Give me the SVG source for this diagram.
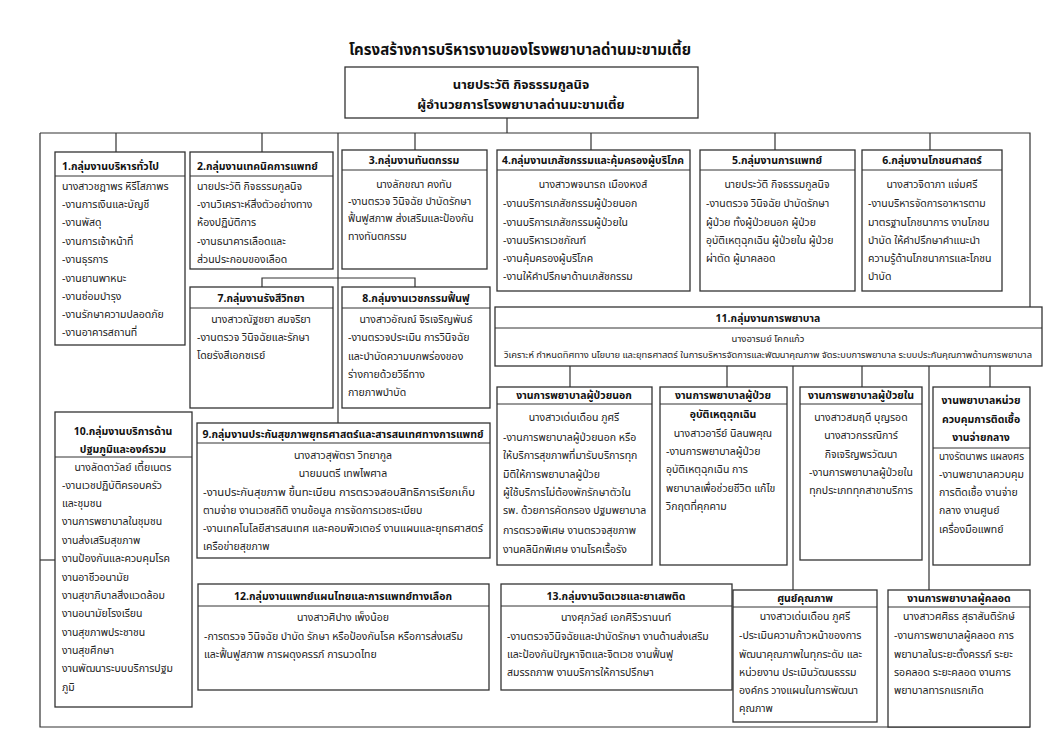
<svg xmlns="http://www.w3.org/2000/svg" width="1053" height="740" viewBox="0 0 1053 740">
<style>
text{font-family:Tahoma,"Noto Sans Thai","Noto Sans","DejaVu Sans",sans-serif;font-size:10.5px;fill:#222}
.h{font-weight:bold;fill:#111}
.c{text-anchor:middle}
.ttl{font-size:15px;font-weight:bold;fill:#111}
.top{font-size:13px;font-weight:bold;fill:#111}
.sm{font-size:9.5px}
.b{fill:#fff;stroke:#333;stroke-width:1.3}
.d{stroke:#333;stroke-width:1}
.ln{stroke:#333;stroke-width:1.2;fill:none}
</style>
<rect width="1053" height="740" fill="#fff"/>
<text class="ttl c" x="520" y="55">โครงสร้างการบริหารงานของโรงพยาบาลด่านมะขามเตี้ย</text>

<g id="connectors" class="ln">
<path d="M507 118V133M40 133H1030V307M40 133V727H1030"/>
<path d="M116 133V152M262 133V152M338 133V423M415 133V150M591 133V150M775 133V150M930 133V150"/>
<path d="M262 287V278H415V287"/>
<path d="M40 560H55"/>
<path d="M570 366V387M727 366V387M862 366V387M990 366V387M793 366V590M929 366V590"/>
</g>

<g id="director">
<rect class="b" x="345" y="67" width="353" height="51"/>
<text class="top c" x="521" y="89">นายประวัติ  กิจธรรมกูลนิจ</text>
<text class="top c" x="521" y="109">ผู้อำนวยการโรงพยาบาลด่านมะขามเตี้ย</text>
</g>

<g id="g1">
<rect class="b" x="55" y="152" width="130" height="193"/>
<line class="d" x1="55" y1="176" x2="185" y2="176"/>
<text class="h" x="62" y="170">1.กลุ่มงานบริหารทั่วไป</text>
<text x="62" y="190">นางสาวชฎาพร หิรีโสภาพร</text>
<text x="62" y="208">-งานการเงินและบัญชี</text>
<text x="62" y="226">-งานพัสดุ</text>
<text x="62" y="245">-งานการเจ้าหน้าที่</text>
<text x="62" y="263">-งานธุรการ</text>
<text x="62" y="282">-งานยานพาหนะ</text>
<text x="62" y="300">-งานซ่อมบำรุง</text>
<text x="62" y="318">-งานรักษาความปลอดภัย</text>
<text x="62" y="336">-งานอาคารสถานที่</text>
</g>

<g id="g2">
<rect class="b" x="190" y="152" width="143" height="117"/>
<line class="d" x1="190" y1="176" x2="333" y2="176"/>
<text class="h" x="197" y="170">2.กลุ่มงานเทคนิคการแพทย์</text>
<text x="197" y="190">นายประวัติ  กิจธรรมกูลนิจ</text>
<text x="197" y="208">-งานวิเคราะห์สิ่งตัวอย่างทาง</text>
<text x="197" y="226">ห้องปฏิบัติการ</text>
<text x="197" y="245">-งานธนาคารเลือดและ</text>
<text x="197" y="263">ส่วนประกอบของเลือด</text>
</g>

<g id="g3">
<rect class="b" x="342" y="150" width="145" height="119"/>
<line class="d" x1="342" y1="170" x2="487" y2="170"/>
<text class="h c" x="414" y="164">3.กลุ่มงานทันตกรรม</text>
<text class="c" x="414" y="188">นางลักขณา  คงทับ</text>
<text x="348" y="205">-งานตรวจ วินิจฉัย บำบัดรักษา</text>
<text x="348" y="222">ฟื้นฟูสภาพ ส่งเสริมและป้องกัน</text>
<text x="348" y="240">ทางทันตกรรม</text>
</g>

<g id="g4">
<rect class="b" x="497" y="150" width="193" height="141"/>
<line class="d" x1="497" y1="170" x2="690" y2="170"/>
<text class="h c" x="593" y="164" textLength="182" lengthAdjust="spacingAndGlyphs">4.กลุ่มงานเภสัชกรรมและคุ้มครองผู้บริโภค</text>
<text class="c" x="593" y="188">นางสาวพจนารถ  เมืองหงส์</text>
<text x="503" y="207">-งานบริการเภสัชกรรมผู้ป่วยนอก</text>
<text x="503" y="226">-งานบริการเภสัชกรรมผู้ป่วยใน</text>
<text x="503" y="244">-งานบริหารเวชภัณฑ์</text>
<text x="503" y="262">-งานคุ้มครองผู้บริโภค</text>
<text x="503" y="280">-งานให้คำปรึกษาด้านเภสัชกรรม</text>
</g>

<g id="g5">
<rect class="b" x="700" y="150" width="155" height="141"/>
<line class="d" x1="700" y1="170" x2="855" y2="170"/>
<text class="h c" x="777" y="164">5.กลุ่มงานการแพทย์</text>
<text class="c" x="777" y="188">นายประวัติ  กิจธรรมกูลนิจ</text>
<text x="706" y="207">-งานตรวจ วินิจฉัย บำบัดรักษา</text>
<text x="706" y="226">ผู้ป่วย ทั้งผู้ป่วยนอก ผู้ป่วย</text>
<text x="706" y="244">อุบัติเหตุฉุกเฉิน ผู้ป่วยใน ผู้ป่วย</text>
<text x="706" y="262">ผ่าตัด ผู้มาคลอด</text>
</g>

<g id="g6">
<rect class="b" x="862" y="150" width="140" height="141"/>
<line class="d" x1="862" y1="170" x2="1002" y2="170"/>
<text class="h c" x="932" y="164">6.กลุ่มงานโภชนศาสตร์</text>
<text class="c" x="932" y="188">นางสาวจิดาภา  แจ่มศรี</text>
<text x="868" y="207">-งานบริหารจัดการอาหารตาม</text>
<text x="868" y="226">มาตรฐานโภชนาการ งานโภชน</text>
<text x="868" y="244">บำบัด ให้คำปรึกษาคำแนะนำ</text>
<text x="868" y="262">ความรู้ด้านโภชนาการและโภชน</text>
<text x="868" y="280">บำบัด</text>
</g>

<g id="g7">
<rect class="b" x="190" y="287" width="143" height="121"/>
<line class="d" x1="190" y1="308" x2="333" y2="308"/>
<text class="h c" x="261" y="302">7.กลุ่มงานรังสีวิทยา</text>
<text class="c" x="261" y="323">นางสาวณัฐชยา  สมจริยา</text>
<text x="197" y="341">-งานตรวจ วินิจฉัยและรักษา</text>
<text x="197" y="359">โดยรังสีเอกซเรย์</text>
</g>

<g id="g8">
<rect class="b" x="342" y="287" width="148" height="121"/>
<line class="d" x1="342" y1="308" x2="490" y2="308"/>
<text class="h c" x="416" y="302">8.กลุ่มงานเวชกรรมฟื้นฟู</text>
<text class="c" x="416" y="323">นางสาวอัณณ์  จิรเจริญพันธ์</text>
<text x="348" y="341">-งานตรวจประเมิน การวินิจฉัย</text>
<text x="348" y="360">และบำบัดความบกพร่องของ</text>
<text x="348" y="378">ร่างกายด้วยวิธีทาง</text>
<text x="348" y="396">กายภาพบำบัด</text>
</g>

<g id="g11">
<rect class="b" x="495" y="307" width="547" height="59"/>
<line class="d" x1="495" y1="328" x2="1042" y2="328"/>
<text class="h c" x="768" y="322">11.กลุ่มงานการพยาบาล</text>
<text class="c sm" x="768" y="342">นางอารมย์  โคกแก้ว</text>
<text class="c sm" x="768" y="358" textLength="528" lengthAdjust="spacingAndGlyphs">วิเคราะห์ กำหนดทิศทาง นโยบาย และยุทธศาสตร์ ในการบริหารจัดการและพัฒนาคุณภาพ จัดระบบการพยาบาล ระบบประกันคุณภาพด้านการพยาบาล</text>
</g>

<g id="opd">
<rect class="b" x="497" y="387" width="155" height="178"/>
<line class="d" x1="497" y1="404" x2="652" y2="404"/>
<text class="h c" x="574" y="399">งานการพยาบาลผู้ป่วยนอก</text>
<text class="c" x="574" y="421">นางสาวเด่นเดือน  ภูศรี</text>
<text x="503" y="441">-งานการพยาบาลผู้ป่วยนอก หรือ</text>
<text x="503" y="459">ให้บริการสุขภาพที่มารับบริการทุก</text>
<text x="503" y="478">มิติให้การพยาบาลผู้ป่วย</text>
<text x="503" y="496">ผู้ใช้บริการไม่ต้องพักรักษาตัวใน</text>
<text x="503" y="514">รพ. ด้วยการคัดกรอง ปฐมพยาบาล</text>
<text x="503" y="534">การตรวจพิเศษ  งานตรวจสุขภาพ</text>
<text x="503" y="553">งานคลินิกพิเศษ งานโรคเรื้อรัง</text>
</g>

<g id="er">
<rect class="b" x="660" y="387" width="127" height="178"/>
<line class="d" x1="660" y1="404" x2="787" y2="404"/>
<text class="h c" x="723" y="399">งานการพยาบาลผู้ป่วย</text>
<text class="h c" x="723" y="418">อุบัติเหตุฉุกเฉิน</text>
<text class="c" x="723" y="437">นางสาวอารีย์  นิลนพคุณ</text>
<text x="666" y="455">-งานการพยาบาลผู้ป่วย</text>
<text x="666" y="473">อุบัติเหตุฉุกเฉิน การ</text>
<text x="666" y="492">พยาบาลเพื่อช่วยชีวิต แก้ไข</text>
<text x="666" y="510">วิกฤตที่คุกคาม</text>
</g>

<g id="ipd">
<rect class="b" x="800" y="387" width="122" height="173"/>
<line class="d" x1="800" y1="404" x2="922" y2="404"/>
<text class="h c" x="861" y="399">งานการพยาบาลผู้ป่วยใน</text>
<text class="c" x="861" y="421">นางสาวสมฤดี  บุญรอด</text>
<text class="c" x="861" y="439">นางสาวกรรณิการ์</text>
<text class="c" x="861" y="458">กิจเจริญพรวัฒนา</text>
<text class="c" x="861" y="476">-งานการพยาบาลผู้ป่วยใน</text>
<text class="c" x="861" y="494">ทุกประเภททุกสาขาบริการ</text>
</g>

<g id="ic">
<rect class="b" x="933" y="387" width="97" height="178"/>
<line class="d" x1="933" y1="448" x2="1030" y2="448"/>
<text class="h c" x="981" y="404">งานพยาบาลหน่วย</text>
<text class="h c" x="981" y="423">ควบคุมการติดเชื้อ</text>
<text class="h c" x="981" y="441">งานจ่ายกลาง</text>
<text x="939" y="460" textLength="85" lengthAdjust="spacingAndGlyphs">นางรัตนาพร แผลงศร</text>
<text x="939" y="478">-งานพยาบาลควบคุม</text>
<text x="939" y="496">การติดเชื้อ งานจ่าย</text>
<text x="939" y="514">กลาง งานศูนย์</text>
<text x="939" y="533">เครื่องมือแพทย์</text>
</g>

<g id="g10">
<rect class="b" x="55" y="412" width="137" height="295"/>
<line class="d" x1="55" y1="457" x2="192" y2="457"/>
<text class="h c" x="123" y="435">10.กลุ่มงานบริการด้าน</text>
<text class="h c" x="123" y="453">ปฐมภูมิและองค์รวม</text>
<text class="c" x="123" y="471">นางลัดดาวัลย์  เตี้ยเนตร</text>
<text x="62" y="489">-งานเวชปฏิบัติครอบครัว</text>
<text x="62" y="507">และชุมชน</text>
<text x="62" y="525">งานการพยาบาลในชุมชน</text>
<text x="62" y="544">งานส่งเสริมสุขภาพ</text>
<text x="62" y="562">งานป้องกันและควบคุมโรค</text>
<text x="62" y="581">งานอาชีวอนามัย</text>
<text x="62" y="599">งานสุขาภิบาลสิ่งแวดล้อม</text>
<text x="62" y="617">งานอนามัยโรงเรียน</text>
<text x="62" y="636">งานสุขภาพประชาชน</text>
<text x="62" y="654">งานสุขศึกษา</text>
<text x="62" y="672">งานพัฒนาระบบบริการปฐม</text>
<text x="62" y="691">ภูมิ</text>
</g>

<g id="g9">
<rect class="b" x="197" y="423" width="293" height="135"/>
<line class="d" x1="197" y1="443" x2="490" y2="443"/>
<text class="h c" x="343" y="438" textLength="281" lengthAdjust="spacingAndGlyphs">9.กลุ่มงานประกันสุขภาพยุทธศาสตร์และสารสนเทศทางการแพทย์</text>
<text class="c" x="343" y="459">นางสาวสุพัตรา  วิทยากูล</text>
<text class="c" x="343" y="477">นายมนตรี  เทพไพศาล</text>
<text x="203" y="496" textLength="272" lengthAdjust="spacingAndGlyphs">-งานประกันสุขภาพ ขึ้นทะเบียน การตรวจสอบสิทธิการเรียกเก็บ</text>
<text x="203" y="514">ตามจ่าย งานเวชสถิติ งานข้อมูล การจัดการเวชระเบียบ</text>
<text x="203" y="532" textLength="280" lengthAdjust="spacingAndGlyphs">-งานเทคโนโลยีสารสนเทศ และคอมพิวเตอร์ งานแผนและยุทธศาสตร์</text>
<text x="203" y="550">เครือข่ายสุขภาพ</text>
</g>

<g id="g12">
<rect class="b" x="198" y="584" width="291" height="106"/>
<line class="d" x1="198" y1="606" x2="489" y2="606"/>
<text class="h c" x="343" y="600">12.กลุ่มงานแพทย์แผนไทยและการแพทย์ทางเลือก</text>
<text class="c" x="343" y="621">นางสาวศิปาง  เพ็งน้อย</text>
<text x="204" y="640">-การตรวจ วินิจฉัย บำบัด รักษา หรือป้องกันโรค หรือการส่งเสริม</text>
<text x="204" y="658">และฟื้นฟูสภาพ การผดุงครรภ์ การนวดไทย</text>
</g>

<g id="g13">
<rect class="b" x="501" y="584" width="231" height="106"/>
<line class="d" x1="501" y1="606" x2="732" y2="606"/>
<text class="h c" x="616" y="600">13.กลุ่มงานจิตเวชและยาเสพติด</text>
<text class="c" x="616" y="621">นางศุภวัลย์  เอกศิริวรานนท์</text>
<text x="507" y="640">-งานตรวจวินิจฉัยและบำบัดรักษา งานด้านส่งเสริม</text>
<text x="507" y="658">และป้องกันปัญหาจิตและจิตเวช งานฟื้นฟู</text>
<text x="507" y="676">สมรรถภาพ งานบริการให้การปรึกษา</text>
</g>

<g id="qc">
<rect class="b" x="733" y="590" width="144" height="132"/>
<line class="d" x1="733" y1="607" x2="877" y2="607"/>
<text class="h c" x="805" y="602">ศูนย์คุณภาพ</text>
<text class="c" x="805" y="620">นางสาวเด่นเดือน  ภูศรี</text>
<text x="739" y="639">-ประเมินความก้าวหน้าของการ</text>
<text x="739" y="658">พัฒนาคุณภาพในทุกระดับ และ</text>
<text x="739" y="676">หน่วยงาน ประเมินวัฒนธรรม</text>
<text x="739" y="694">องค์กร วางแผนในการพัฒนา</text>
<text x="739" y="712">คุณภาพ</text>
</g>

<g id="lr">
<rect class="b" x="888" y="590" width="142" height="137"/>
<line class="d" x1="888" y1="607" x2="1030" y2="607"/>
<text class="h c" x="959" y="602">งานการพยาบาลผู้คลอด</text>
<text class="c" x="959" y="620">นางสาวศศิธร สุธาสันติรักษ์</text>
<text x="894" y="639">-งานการพยาบาลผู้คลอด การ</text>
<text x="894" y="658">พยาบาลในระยะตั้งครรภ์ ระยะ</text>
<text x="894" y="676">รอคลอด ระยะคลอด งานการ</text>
<text x="894" y="694">พยาบาลทารกแรกเกิด</text>
</g>
</svg>
